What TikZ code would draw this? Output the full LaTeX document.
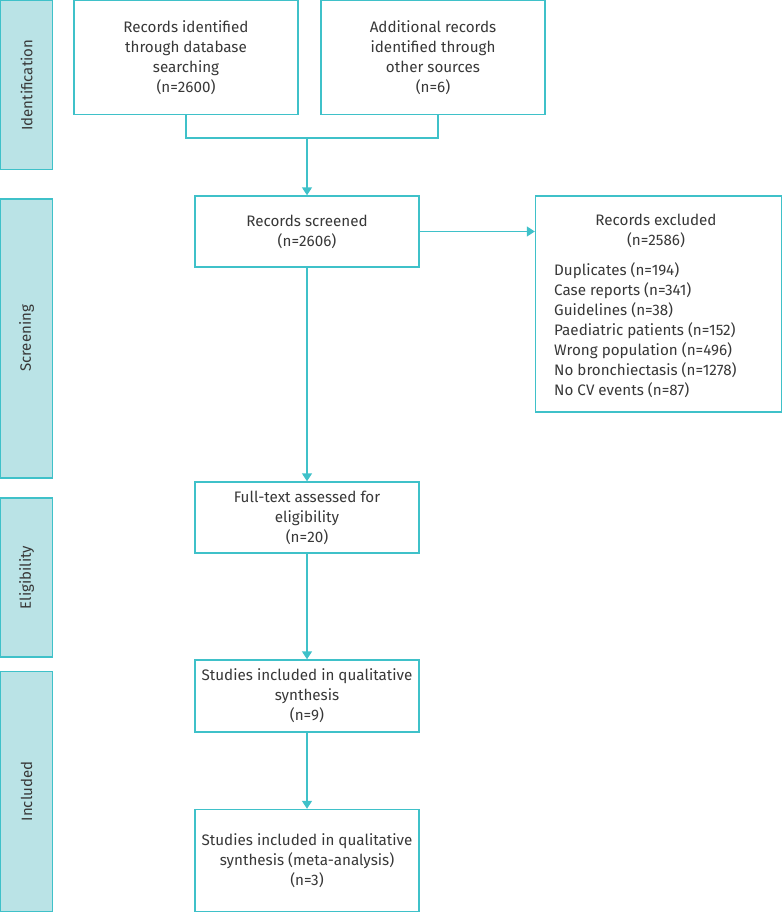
\documentclass[tikz,border=0pt]{standalone}
\usepackage{fontspec}
\setmainfont{Fira Sans}
\usetikzlibrary{arrows.meta}
\definecolor{tealline}{HTML}{3FC1C9}
\definecolor{sidefill}{HTML}{BAE3E6}
\definecolor{txt}{HTML}{383838}
\begin{document}
\begin{tikzpicture}[x=1pt,y=-1pt,
  box/.style={draw=tealline, line width=1.4pt, fill=white, inner sep=0pt, align=center,
    font=\fontsize{15.2}{20}\selectfont, text=txt},
  side/.style={draw=tealline, fill=sidefill, line width=1.4pt, inner sep=0pt},
  lab/.style={rotate=90, font=\fontsize{15}{20}\selectfont, text=txt},
  plain/.style={font=\fontsize{15.2}{20}\selectfont, text=txt, inner sep=0pt},
  ln/.style={draw=tealline, line width=1.4pt},
  arr/.style={draw=tealline, line width=1.4pt, -{Triangle[width=10pt,length=8pt]}}]
\useasboundingbox (0,0) rectangle (783,913);
% side bands
\node[side, minimum width=52pt, minimum height=169pt] (sid1) at (26.7,85.2) {};
\node[lab] (lid) at (sid1) {Identification};
\node[side, minimum width=52pt, minimum height=279pt] (sid2) at (26.7,338.5) {};
\node[lab] (lsc) at (sid2) {Screening};
\node[side, minimum width=52pt, minimum height=159pt] (sid3) at (26.7,577.5) {};
\node[lab] (lel) at (sid3) {Eligibility};
\node[side, minimum width=52pt, minimum height=240pt] (sid4) at (26.7,791.5) {};
\node[lab] (lin) at (sid4) {Included};
% boxes
\node[box, minimum width=224pt, minimum height=114pt] (b1) at (186,57.7)
  {Records identified\\through database\\searching\\(n=2600)};
\node[box, minimum width=224pt, minimum height=114pt] (b2) at (433,57.7)
  {Additional records\\identified through\\other sources\\(n=6)};
\node[box, minimum width=224pt, minimum height=71pt] (scr) at (307,231.5)
  {Records screened\\(n=2606)};
\node[box, minimum width=246pt, minimum height=216pt] (exc) at (658.5,304) {};
\node[plain, align=center] (exh) at (656,231) {Records excluded\\(n=2586)};
\node[plain, align=left, anchor=west] (exl) at (554,330)
  {Duplicates (n=194)\\Case reports (n=341)\\Guidelines (n=38)\\Paediatric patients (n=152)\\Wrong population (n=496)\\No bronchiectasis (n=1278)\\No CV events (n=87)};
\node[box, minimum width=224pt, minimum height=71pt] (full) at (307,517.5)
  {Full-text assessed for\\eligibility\\(n=20)};
\node[box, minimum width=224pt, minimum height=72pt] (inc1) at (307,696)
  {Studies included in qualitative\\synthesis\\(n=9)};
\node[box, minimum width=224pt, minimum height=102pt] (inc2) at (307,860.5)
  {Studies included in qualitative\\synthesis (meta-analysis)\\(n=3)};
% connectors
\coordinate (jn) at (307,138);
\draw[ln] (b1.south) |- (jn) -| ([xshift=5pt]b2.south);
\draw[arr] (jn) -- (scr.north);
\draw[arr] (scr.east) -- (exc.west |- scr.east);
\draw[arr] (scr.south) -- (full.north);
\draw[arr] (full.south) -- (inc1.north);
\draw[arr] (inc1.south) -- (inc2.north);
\end{tikzpicture}
\end{document}
